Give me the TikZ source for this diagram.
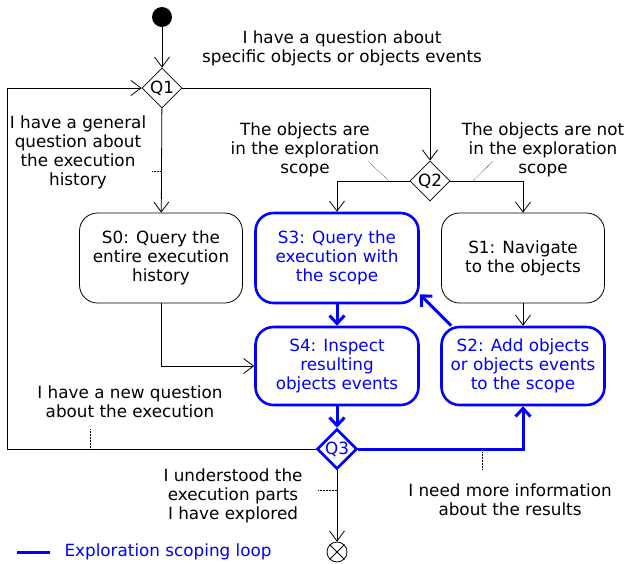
\documentclass[tikz,border=0pt]{standalone}
\usepackage{fontspec}
\setmainfont{DejaVu Sans}
\usetikzlibrary{shapes.geometric,arrows.meta}

\tikzset{
  every node/.style={font=\fontsize{16.8}{19}\selectfont},
  action/.style={draw, rounded corners=18pt, minimum width=163pt, align=center, line width=0.8pt},
  loopbox/.style={action, draw=blue, text=blue, line width=2.6pt},
  choice/.style={draw, diamond, minimum size=40pt, inner sep=0pt, line width=0.8pt},
  flow/.style={line width=0.8pt, -{Straight Barb[length=10pt,width=15pt]}},
  loopflow/.style={line width=3pt, blue, -{Straight Barb[length=8pt,width=15pt]}},
  note/.style={align=center},
  tie/.style={densely dotted, line width=0.5pt},
}

\begin{document}
\begin{tikzpicture}[x=1pt,y=-1pt]
\useasboundingbox (0,0) rectangle (626,563);

\node[circle, fill, minimum size=20pt, inner sep=0pt] (start) at (162,17) {};
\node[choice] (q1) at (162,88) {Q1};
\node[choice] (q2) at (430,181) {Q2};
\node[choice, draw=blue, text=blue, line width=2.6pt] (q3) at (337,449) {Q3};

\node[action, minimum height=90pt] (s0) at (161,258) {S0: Query the\\entire execution\\history};
\node[loopbox, minimum height=90pt] (s3) at (337,258) {S3: Query the\\execution with\\the scope};
\node[action, minimum height=90pt] (s1) at (523,258) {S1: Navigate\\to the objects};
\node[loopbox, minimum height=78pt] (s4) at (337,366) {S4: Inspect\\resulting\\objects events};
\node[loopbox, minimum height=78pt] (s2) at (523,366) {S2: Add objects\\or objects events\\to the scope};

\node[circle, draw, minimum size=20pt, inner sep=0pt, line width=0.8pt] (end) at (337,552) {};
\draw[line width=0.8pt] (end.north west) -- (end.south east) (end.north east) -- (end.south west);

\draw[flow] (start) -- (q1);
\draw[flow] (q1) -- (s0);
\draw[flow] (q1.east) -| (q2.north);
\draw[flow] (q2.west) -| (s3.north);
\draw[flow] (q2.east) -| (s1.north);
\draw[flow] (s0.south) |- (s4.west);
\draw[flow] (s1) -- (s2);
\draw[loopflow] (s3) -- (s4);
\draw[loopflow] ([xshift=11pt]s2.north west) -- ([yshift=10pt]s3.south east);
\draw[loopflow] (s4) -- (q3);
\draw[loopflow] (q3.east) -| (s2.south);
\coordinate (back) at (7,449);
\draw[flow] (q3.west) -- (back) |- (q1.west);
\draw[flow] (q3) -- (end);

\node[note] (askspecific) at (342,48) {I have a question about\\specific objects or objects events};
\node[note] (askgeneral) at (78,152) {I have a general\\question about\\the execution\\history};
\draw[tie] (152,171) -- (162,171);
\node[note] (inscope) at (305,150) {The objects are\\in the exploration\\scope};
\draw[tie] (368,161) -- (389,181);
\node[note] (notinscope) at (543,150) {The objects are not\\in the exploration\\scope};
\draw[tie] (493,161) -- (473,181);
\node[note] (asknew) at (130,402) {I have a new question\\about the execution};
\draw[tie] (90,429) -- (90,449);
\node[note] (understood) at (233,496) {I understood the\\execution parts\\I have explored};
\draw[tie] (318,490) -- (337,490);
\node[note] (needmore) at (510,500) {I need more information\\about the results};
\draw[tie] (482,452) -- (482,469);

\coordinate (keyA) at (17,552);
\coordinate (keyB) at (50,552);
\draw[line width=3pt, blue] (keyA) -- (keyB);
\node[anchor=west, text=blue] (key) at (61,552) {Exploration scoping loop};
\end{tikzpicture}
\end{document}
